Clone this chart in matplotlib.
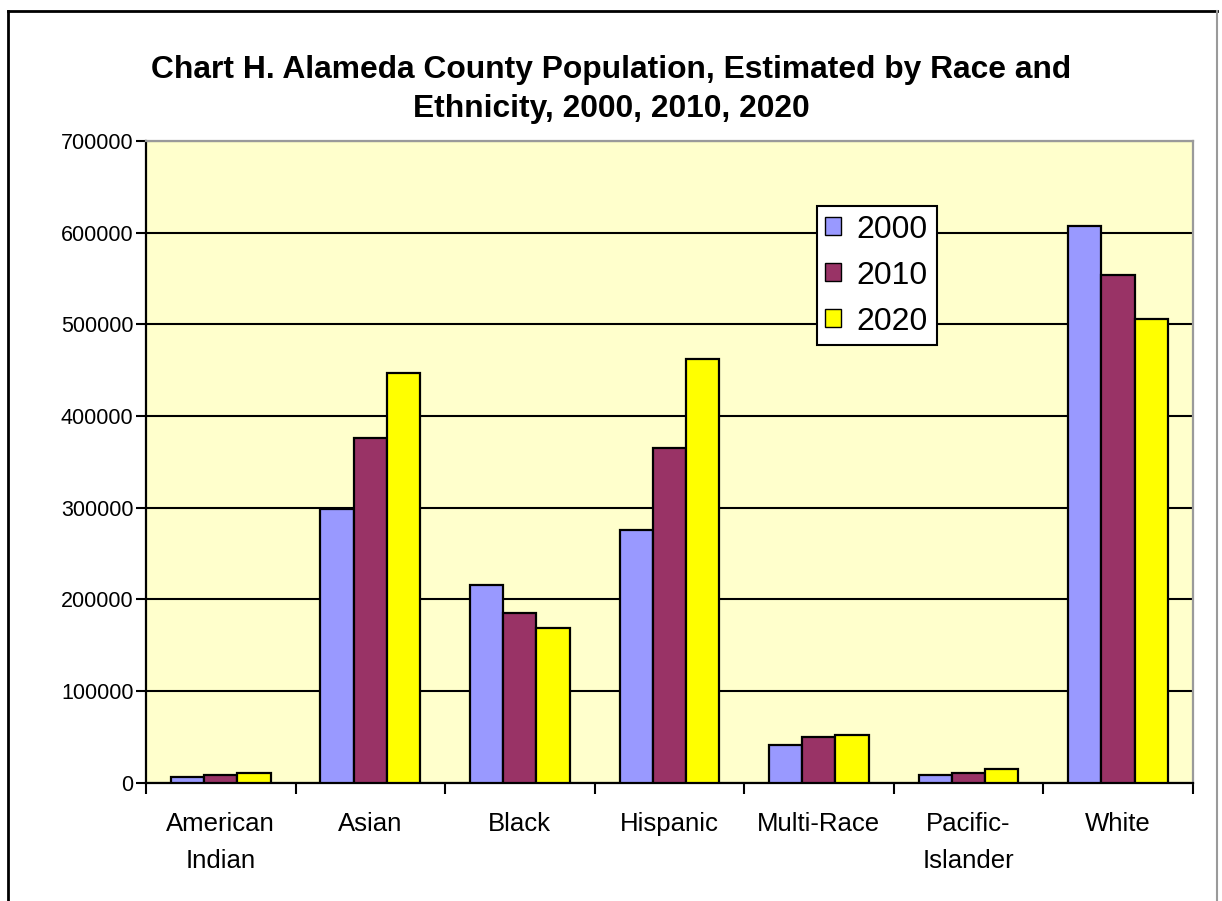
import numpy as np
import matplotlib.pyplot as plt
from matplotlib.lines import Line2D

plt.rcParams["font.family"] = ["Liberation Sans", "DejaVu Sans"]

groups = ["American\nIndian", "Asian", "Black", "Hispanic", "Multi-Race", "Pacific-\nIslander", "White"]
years = ["2000", "2010", "2020"]
pop_2000 = [5700, 299000, 215400, 275000, 40600, 7900, 607000]
pop_2010 = [8200, 375400, 184500, 365000, 49300, 10000, 553800]
pop_2020 = [10400, 447000, 168800, 462600, 51500, 14400, 505800]
colors = ["#9999FF", "#993366", "#FFFF00"]

fig = plt.figure(figsize=(12.22, 9.01), dpi=100)
ax = fig.add_axes([0.1195, 0.1315, 0.8565, 0.7120])
ax.set_facecolor("#FFFFCC")

x = np.arange(len(groups))
w = 1 / 4.5
for k, (vals, col, yr) in enumerate(zip([pop_2000, pop_2010, pop_2020], colors, years)):
    ax.bar(x + (k - 1) * w, vals, width=w, color=col, edgecolor="black",
           linewidth=1.6, label=yr, zorder=3)

ax.set_xlim(-0.5, len(groups) - 0.5)
ax.set_ylim(0, 700000)
ax.set_yticks(np.arange(0, 700001, 100000))
ax.yaxis.grid(True, color="black", linewidth=1.5, zorder=1)
ax.set_axisbelow(True)

# category labels sit between the boundary ticks
ax.set_xticks(np.arange(-0.5, len(groups)), labels=[""] * (len(groups) + 1))
ax.set_xticks(x, labels=groups, minor=True)
ax.tick_params(axis="x", which="minor", length=0, pad=21, labelsize=18.5)
ax.tick_params(axis="x", which="major", length=8, width=1.5, direction="out")
ax.tick_params(axis="y", length=7, width=1.5, pad=2, labelsize=15.5)
for lab in ax.get_xticklabels(minor=True):
    lab.set_linespacing(1.7)
    lab.set_verticalalignment("top")

for side in ["left", "bottom"]:
    ax.spines[side].set_color("black")
    ax.spines[side].set_linewidth(1.6)
for side in ["top", "right"]:
    ax.spines[side].set_color("#9a9a9a")
    ax.spines[side].set_linewidth(1.6)

leg = ax.legend(loc="upper left", bbox_to_anchor=(0.6408, 0.8987), fontsize=23,
                frameon=True, fancybox=False, edgecolor="black", framealpha=1,
                handlelength=0.48, handleheight=0.48, handletextpad=0.5,
                labelspacing=0.5, borderpad=0.27, borderaxespad=0)
leg.get_frame().set_linewidth(1.5)
for h in leg.legend_handles:
    h.set_linewidth(1.0)

fig.suptitle("Chart H. Alameda County Population, Estimated by Race and\nEthnicity, 2000, 2010, 2020",
             x=0.5, y=0.939, fontsize=22.9, fontweight="bold", linespacing=1.39)

# outer chart frame (bottom edge falls outside the image)
fig.add_artist(Line2D([0.0066, 0.0066], [-0.01, 0.9878], transform=fig.transFigure,
                      color="black", linewidth=2))
fig.add_artist(Line2D([0.0066, 0.9963], [0.9878, 0.9878], transform=fig.transFigure,
                      color="black", linewidth=2))
fig.add_artist(Line2D([0.9963, 0.9963], [-0.01, 0.9878], transform=fig.transFigure,
                      color="#9a9a9a", linewidth=1.5))

fig.savefig("out.png", dpi=100, facecolor="white")
